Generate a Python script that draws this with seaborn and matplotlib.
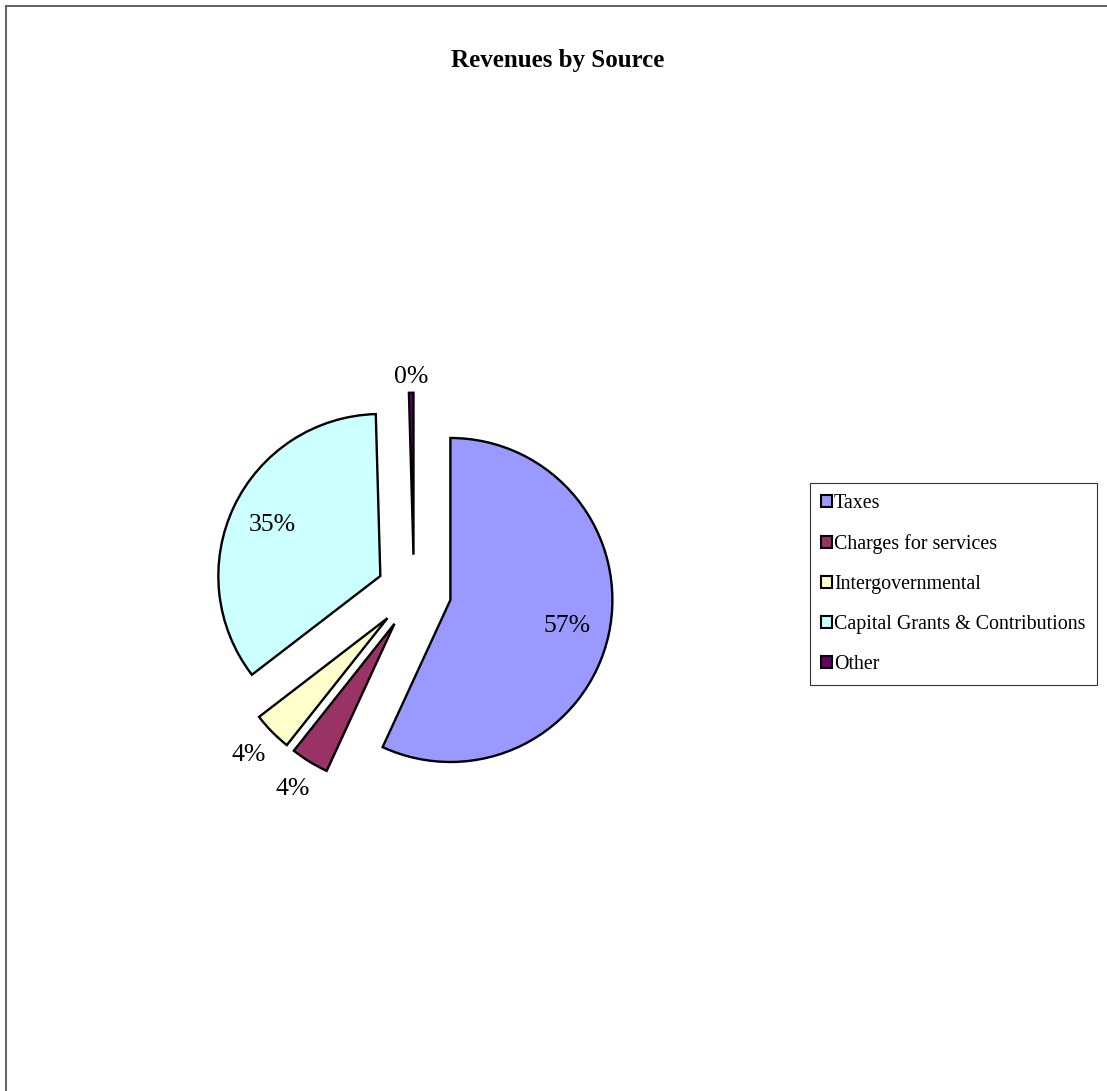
import numpy as np
import matplotlib
matplotlib.use("Agg")
import matplotlib.pyplot as plt
import seaborn as sns
from matplotlib.lines import Line2D

sns.set_theme(style="white")
plt.rcParams['font.family'] = ['Liberation Serif', 'DejaVu Serif']
plt.rcParams['text.color'] = 'black'

title = "Revenues by Source"
categories = ["Taxes", "Charges for services", "Intergovernmental",
              "Capital Grants & Contributions", "Other"]
values = [56.9, 3.8, 3.9, 35.0, 0.45]
colors = ["#9999FF", "#993366", "#FFFFCC", "#CCFFFF", "#660066"]

W, H = 1107, 1091
fig = plt.figure(figsize=(W / 100, H / 100), dpi=100)
fig.patch.set_facecolor("white")

# pie axes: center (414, 592) px, radius 162 px, axis span 3 radii
cx, cy, r = 414, 592, 162
side = 3 * r
ax = fig.add_axes([(cx - side / 2) / W, (H - cy - side / 2) / H, side / W, side / H])

explode = [0.23] * len(values)
wedges, _ = ax.pie(values, colors=colors, explode=explode, startangle=90,
                   counterclock=False, radius=1.0,
                   wedgeprops=dict(edgecolor="black", linewidth=1.7))
ax.set_xlim(-1.5, 1.5)
ax.set_ylim(-1.5, 1.5)
ax.set_aspect("equal")
ax.axis("off")

total = sum(values)
for w, v in zip(wedges, values):
    th = np.deg2rad((w.theta1 + w.theta2) / 2)
    pct = 100 * v / total
    if pct >= 10:
        d = 0.74
    elif pct >= 1:
        d = 1.2
    else:
        d = 1.1
    x0, y0 = w.center
    ax.text(x0 + d * np.cos(th), y0 + d * np.sin(th), f"{round(pct)}%",
            ha="center", va="center", fontsize=18.5, color="black")

fig.text(558 / W, 1 - 60 / H, title, ha="center", va="center",
         fontsize=18, fontweight="bold", color="black")

handles = [plt.Rectangle((0, 0), 1, 1, facecolor=c, edgecolor="black", linewidth=1.5)
           for c in colors]
leg = fig.legend(handles, categories, loc="center left",
                 bbox_to_anchor=(810 / W, 1 - 584 / H), frameon=True,
                 fontsize=14.4, handlelength=0.55, handleheight=0.55,
                 handletextpad=0.1, labelspacing=1.05, borderpad=0.55,
                 borderaxespad=0, fancybox=False, labelcolor="black")
leg.get_frame().set_edgecolor("black")
leg.get_frame().set_linewidth(0.8)

# figure border (left and top)
fig.add_artist(Line2D([6 / W, 6 / W], [0, 1 - 5.5 / H], transform=fig.transFigure,
                      color="#555555", linewidth=1.3))
fig.add_artist(Line2D([6 / W, 1], [1 - 5.5 / H, 1 - 5.5 / H], transform=fig.transFigure,
                      color="#555555", linewidth=1.3))

fig.savefig("out.png", dpi=100, facecolor="white")
